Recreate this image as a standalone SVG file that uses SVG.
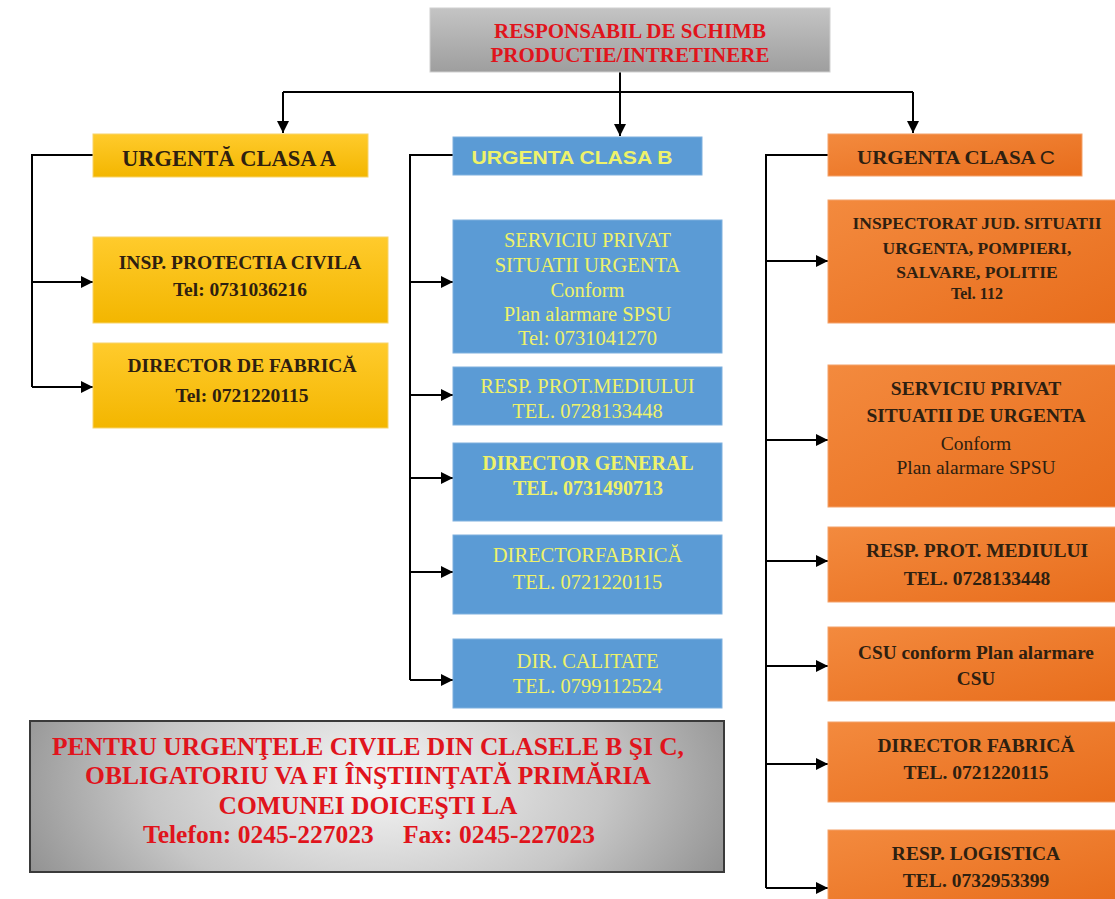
<svg xmlns="http://www.w3.org/2000/svg" width="1115" height="899" viewBox="0 0 1115 899">
<defs>
  <linearGradient id="gTop" x1="0" y1="0" x2="0" y2="1">
    <stop offset="0" stop-color="#c4c4c4"/>
    <stop offset="1" stop-color="#9e9e9e"/>
  </linearGradient>
  <linearGradient id="gA" x1="0" y1="0" x2="0" y2="1">
    <stop offset="0" stop-color="#ffcb2c"/>
    <stop offset="1" stop-color="#f3b600"/>
  </linearGradient>
  <linearGradient id="gC" x1="0" y1="0" x2="1" y2="1">
    <stop offset="0" stop-color="#f38a3e"/>
    <stop offset="1" stop-color="#e86d1c"/>
  </linearGradient>
  <radialGradient id="gBot" cx="0.5" cy="0.4" r="0.55" gradientTransform="translate(0.5 0.4) scale(1 2.6) translate(-0.5 -0.4)">
    <stop offset="0" stop-color="#f6f6f6"/>
    <stop offset="0.6" stop-color="#c6c6c6"/>
    <stop offset="1" stop-color="#929292"/>
  </radialGradient>
  <marker id="arr" viewBox="0 0 10 10" refX="10" refY="5" markerWidth="6" markerHeight="6" orient="auto" markerUnits="strokeWidth">
    <path d="M0,0 L10,5 L0,10 z" fill="#000"/>
  </marker>
</defs>
<style>
  .ln { fill: none; stroke: #000; stroke-width: 2; }
  .sb { font-family: "Liberation Serif", "Times New Roman", serif; font-weight: bold; text-anchor: middle; }
  .sr { font-family: "Liberation Serif", "Times New Roman", serif; font-weight: normal; text-anchor: middle; }
  .st { font-family: "Liberation Serif", "Times New Roman", serif; font-weight: bold; text-anchor: start; }
  .red { fill: #e0141c; }
  .dk { fill: #2e2010; }
  .yl { fill: #eef26a; }
  .boxA { fill: url(#gA); stroke: #f7d46a; stroke-width: 1; }
  .boxB { fill: #5b9bd5; stroke: #7fb0de; stroke-width: 1; }
  .boxC { fill: url(#gC); stroke: #f4a26a; stroke-width: 1; }
</style>
<rect width="1115" height="899" fill="#ffffff"/>

<g id="connectors">
  <path class="ln" d="M620,72 V92"/>
  <path class="ln" d="M283,92 H913"/>
  <path class="ln" d="M283,92 V133" marker-end="url(#arr)"/>
  <path class="ln" d="M620,92 V136" marker-end="url(#arr)"/>
  <path class="ln" d="M913,92 V133" marker-end="url(#arr)"/>
  <path class="ln" d="M93,155 H32 V387"/>
  <path class="ln" d="M32,282 H93" marker-end="url(#arr)"/>
  <path class="ln" d="M32,387 H93" marker-end="url(#arr)"/>
  <path class="ln" d="M453,155 H410 V680"/>
  <path class="ln" d="M410,282 H453" marker-end="url(#arr)"/>
  <path class="ln" d="M410,395 H453" marker-end="url(#arr)"/>
  <path class="ln" d="M410,478 H453" marker-end="url(#arr)"/>
  <path class="ln" d="M410,572 H453" marker-end="url(#arr)"/>
  <path class="ln" d="M410,680 H453" marker-end="url(#arr)"/>
  <path class="ln" d="M828,155 H766 V888"/>
  <path class="ln" d="M766,261 H828" marker-end="url(#arr)"/>
  <path class="ln" d="M766,440 H828" marker-end="url(#arr)"/>
  <path class="ln" d="M766,561 H828" marker-end="url(#arr)"/>
  <path class="ln" d="M766,666 H828" marker-end="url(#arr)"/>
  <path class="ln" d="M766,764 H828" marker-end="url(#arr)"/>
  <path class="ln" d="M766,888 H828" marker-end="url(#arr)"/>
</g>

<g id="top">
  <rect x="430" y="8" width="400" height="64" fill="url(#gTop)" stroke="#d0d0d0" stroke-width="1"/>
  <text class="sb red" x="630" y="38" font-size="21">RESPONSABIL DE SCHIMB</text>
  <text class="sb red" x="630" y="62" font-size="21">PRODUCTIE/INTRETINERE</text>
</g>

<g id="classA">
  <rect class="boxA" x="93" y="134" width="275" height="43"/>
  <text class="sb dk" x="229" y="166" font-size="22.5">URGENTĂ CLASA A</text>
</g>
<g id="a1">
  <rect class="boxA" x="93" y="237" width="295" height="86"/>
  <text class="sb dk" x="240" y="268.5" font-size="19.5">INSP. PROTECTIA CIVILA</text>
  <text class="sb dk" x="240" y="295.5" font-size="19.5">Tel: 0731036216</text>
</g>
<g id="a2">
  <rect class="boxA" x="93" y="343" width="295" height="85"/>
  <text class="sb dk" x="242" y="371.5" font-size="19.5">DIRECTOR DE FABRICĂ</text>
  <text class="sb dk" x="242" y="401.5" font-size="19.5">Tel: 0721220115</text>
</g>

<g id="classB">
  <rect class="boxB" x="453" y="137" width="249" height="38"/>
  <text x="572" y="163.5" font-size="18.5" font-weight="bold" font-family="Liberation Sans, Arial, sans-serif" text-anchor="middle" class="yl" textLength="201" lengthAdjust="spacingAndGlyphs">URGENTA CLASA  B</text>
</g>
<g id="b1">
  <rect class="boxB" x="453" y="220" width="269" height="133"/>
  <text class="sr yl" x="587.5" y="247" font-size="20.5">SERVICIU PRIVAT</text>
  <text class="sr yl" x="587.5" y="272" font-size="20.5">SITUATII URGENTA</text>
  <text class="sr yl" x="587.5" y="297" font-size="20.5">Conform</text>
  <text class="sr yl" x="587.5" y="321" font-size="20.5">Plan alarmare SPSU</text>
  <text class="sr yl" x="587.5" y="345" font-size="20.5">Tel: 0731041270</text>
</g>
<g id="b2">
  <rect class="boxB" x="453" y="367" width="269" height="58"/>
  <text class="sr yl" x="587.5" y="393" font-size="20.5">RESP. PROT.MEDIULUI</text>
  <text class="sr yl" x="587.5" y="418" font-size="20.5">TEL. 0728133448</text>
</g>
<g id="b3">
  <rect class="boxB" x="453" y="443" width="269" height="78"/>
  <text class="sb yl" x="588" y="470" font-size="20">DIRECTOR GENERAL</text>
  <text class="sb yl" x="588" y="495" font-size="20">TEL. 0731490713</text>
</g>
<g id="b4">
  <rect class="boxB" x="453" y="535" width="269" height="79"/>
  <text class="sr yl" x="587.5" y="562" font-size="20.5">DIRECTORFABRICĂ</text>
  <text class="sr yl" x="587.5" y="589" font-size="20.5">TEL. 0721220115</text>
</g>
<g id="b5">
  <rect class="boxB" x="453" y="639" width="269" height="69"/>
  <text class="sr yl" x="587.5" y="668" font-size="20.5">DIR. CALITATE</text>
  <text class="sr yl" x="587.5" y="693" font-size="20.5">TEL. 0799112524</text>
</g>

<g id="classC">
  <rect class="boxC" x="828" y="134" width="254" height="42"/>
  <text class="sb dk" x="956" y="164" font-size="19" textLength="198" lengthAdjust="spacingAndGlyphs">URGENTA CLASA <tspan font-family="Liberation Sans, Arial, sans-serif" font-weight="normal">C</tspan></text>
</g>
<g id="c1">
  <rect class="boxC" x="828" y="200" width="292" height="123"/>
  <text class="sb dk" x="977" y="229" font-size="17.5">INSPECTORAT JUD. SITUATII</text>
  <text class="sb dk" x="977" y="254" font-size="17.5">URGENTA, POMPIERI,</text>
  <text class="sb dk" x="977" y="278" font-size="17.5">SALVARE, POLITIE</text>
  <text class="sb dk" x="977" y="299" font-size="16">Tel. 112</text>
</g>
<g id="c2">
  <rect class="boxC" x="828" y="365" width="292" height="142"/>
  <text class="sb dk" x="976" y="395" font-size="19.5">SERVICIU PRIVAT</text>
  <text class="sb dk" x="976" y="422" font-size="19.5">SITUATII DE URGENTA</text>
  <text class="sr dk" x="976" y="450" font-size="19.5">Conform</text>
  <text class="sr dk" x="976" y="474" font-size="19.5">Plan alarmare SPSU</text>
</g>
<g id="c3">
  <rect class="boxC" x="828" y="527" width="292" height="75"/>
  <text class="sb dk" x="977" y="557" font-size="19.5">RESP. PROT. MEDIULUI</text>
  <text class="sb dk" x="977" y="585" font-size="19.5">TEL. 0728133448</text>
</g>
<g id="c4">
  <rect class="boxC" x="828" y="627" width="292" height="74"/>
  <text class="sb dk" x="976" y="659" font-size="19.3">CSU conform Plan alarmare</text>
  <text class="sb dk" x="976" y="685" font-size="19.3">CSU</text>
</g>
<g id="c5">
  <rect class="boxC" x="828" y="722" width="292" height="80"/>
  <text class="sb dk" x="976" y="752" font-size="19.5">DIRECTOR FABRICĂ</text>
  <text class="sb dk" x="976" y="779" font-size="19.5">TEL. 0721220115</text>
</g>
<g id="c6">
  <rect class="boxC" x="828" y="830" width="292" height="75"/>
  <text class="sb dk" x="976" y="860" font-size="19.5">RESP. LOGISTICA</text>
  <text class="sb dk" x="976" y="887" font-size="19.5">TEL. 0732953399</text>
</g>

<g id="note">
  <rect x="30" y="721" width="694" height="151" fill="url(#gBot)" stroke="#3a3a3a" stroke-width="2"/>
  <text class="sb red" x="368" y="755" font-size="25.5">PENTRU URGENŢELE CIVILE DIN CLASELE B ŞI C,</text>
  <text class="sb red" x="368" y="784" font-size="25.5">OBLIGATORIU VA FI ÎNŞTIINŢATĂ PRIMĂRIA</text>
  <text class="sb red" x="368" y="814" font-size="25.5">COMUNEI DOICEŞTI LA</text>
  <text class="st red" x="143" y="843" font-size="25.5">Telefon: 0245-227023</text>
  <text class="st red" x="403" y="843" font-size="25.5">Fax: 0245-227023</text>
</g>
</svg>
